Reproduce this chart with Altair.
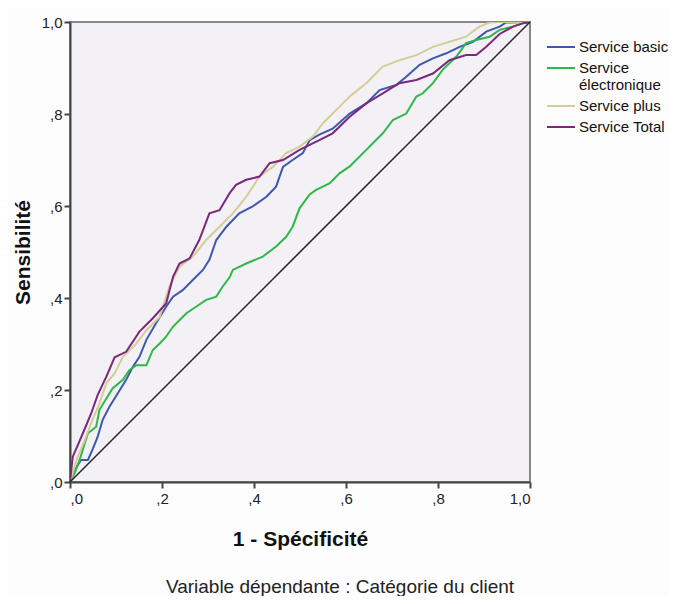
import altair as alt
import pandas as pd

SERIES = ["Service basic", "Service électronique", "Service plus", "Service Total"]
COLORS = ["#3E58AC", "#2EB848", "#D3CE97", "#7C287D"]
TICK_LABELS = [",0", ",2", ",4", ",6", ",8", "1,0"]

basic_x = [0, 0.010, 0.024, 0.039, 0.050, 0.060, 0.071, 0.086, 0.104, 0.122, 0.137, 0.151, 0.166, 0.187, 0.209,
           0.224, 0.245, 0.267, 0.289, 0.303, 0.318, 0.340, 0.368, 0.397, 0.427, 0.448, 0.463, 0.484, 0.506,
           0.521, 0.542, 0.571, 0.608, 0.644, 0.673, 0.709, 0.731, 0.760, 0.789, 0.818, 0.847, 0.876, 0.905,
           0.934, 0.948, 1.0]
basic_y = [0, 0.026, 0.048, 0.048, 0.073, 0.098, 0.135, 0.164, 0.193, 0.222, 0.251, 0.272, 0.309, 0.345, 0.381,
           0.403, 0.417, 0.439, 0.461, 0.483, 0.526, 0.555, 0.584, 0.599, 0.620, 0.642, 0.685, 0.700, 0.715,
           0.743, 0.755, 0.768, 0.801, 0.823, 0.852, 0.863, 0.881, 0.907, 0.921, 0.932, 0.946, 0.957, 0.979,
           0.990, 0.999, 1.0]

elec_x = [0, 0.010, 0.021, 0.032, 0.039, 0.057, 0.064, 0.086, 0.093, 0.115, 0.129, 0.144, 0.166, 0.180, 0.195,
          0.209, 0.224, 0.253, 0.274, 0.296, 0.318, 0.332, 0.347, 0.354, 0.383, 0.419, 0.448, 0.470, 0.484,
          0.499, 0.521, 0.535, 0.564, 0.586, 0.608, 0.644, 0.680, 0.702, 0.731, 0.753, 0.767, 0.789, 0.810,
          0.840, 0.861, 0.883, 0.912, 0.934, 0.963, 0.984, 1.0]
elec_y = [0, 0.019, 0.048, 0.084, 0.106, 0.120, 0.157, 0.193, 0.204, 0.222, 0.243, 0.254, 0.254, 0.287, 0.301,
          0.316, 0.338, 0.367, 0.381, 0.396, 0.403, 0.425, 0.445, 0.461, 0.475, 0.490, 0.512, 0.533, 0.555,
          0.595, 0.625, 0.635, 0.649, 0.671, 0.686, 0.722, 0.758, 0.787, 0.801, 0.838, 0.845, 0.867, 0.896,
          0.925, 0.954, 0.961, 0.968, 0.983, 0.990, 0.997, 1.0]

plus_x = [0, 0.010, 0.017, 0.032, 0.046, 0.064, 0.079, 0.097, 0.115, 0.144, 0.166, 0.195, 0.216, 0.238, 0.267,
          0.296, 0.325, 0.354, 0.383, 0.412, 0.441, 0.470, 0.499, 0.528, 0.550, 0.571, 0.586, 0.608, 0.644,
          0.680, 0.716, 0.753, 0.789, 0.825, 0.861, 0.890, 0.912, 0.930, 1.0]
plus_y = [0, 0.033, 0.055, 0.091, 0.128, 0.171, 0.215, 0.236, 0.272, 0.301, 0.330, 0.359, 0.425, 0.468, 0.490,
          0.526, 0.555, 0.584, 0.620, 0.664, 0.685, 0.715, 0.729, 0.751, 0.780, 0.801, 0.816, 0.838, 0.867,
          0.903, 0.917, 0.928, 0.946, 0.957, 0.968, 0.990, 0.999, 1.0, 1.0]

total_x = [0, 0.006, 0.017, 0.028, 0.046, 0.060, 0.079, 0.097, 0.122, 0.151, 0.180, 0.209, 0.224, 0.238, 0.260,
           0.281, 0.303, 0.325, 0.347, 0.361, 0.383, 0.412, 0.434, 0.463, 0.499, 0.542, 0.571, 0.608, 0.644,
           0.680, 0.716, 0.753, 0.789, 0.825, 0.861, 0.883, 0.905, 0.934, 0.963, 0.984, 1.0]
total_y = [0, 0.055, 0.080, 0.106, 0.149, 0.189, 0.229, 0.271, 0.283, 0.327, 0.356, 0.388, 0.446, 0.475, 0.486,
           0.526, 0.584, 0.591, 0.628, 0.646, 0.657, 0.664, 0.693, 0.700, 0.722, 0.743, 0.758, 0.794, 0.823,
           0.845, 0.867, 0.874, 0.888, 0.917, 0.928, 0.928, 0.946, 0.974, 0.990, 0.997, 1.0]

diag_x = [0, 1]
diag_y = [0, 1]

rows = []
for name, xs, ys in zip(SERIES, [basic_x, elec_x, plus_x, total_x], [basic_y, elec_y, plus_y, total_y]):
    for i, (a, b) in enumerate(zip(xs, ys)):
        rows.append({"serie": name, "fpr": a, "tpr": b, "ordre": i})
df = pd.DataFrame(rows)
diag = pd.DataFrame({"fpr": diag_x, "tpr": diag_y})

label_expr = "[" + ",".join("'" + t + "'" for t in TICK_LABELS) + "][round(datum.value*5)]"

x_scale = alt.Scale(domain=[0, 1], nice=False, zero=False)
y_scale = alt.Scale(domain=[0, 1], nice=False, zero=False)

x_axis = alt.Axis(values=[0, 0.2, 0.4, 0.6, 0.8, 1.0], labelExpr=label_expr, grid=False,
                  title="1 - Spécificité", titleFont="Liberation Sans", titleFontSize=21, titleFontWeight="bold",
                  titleColor="#111", titlePadding=22, labelFont="Liberation Sans", labelFontSize=15,
                  labelColor="#222", labelPadding=3, tickSize=6, tickWidth=2, tickColor="#444",
                  domainColor="#444", domainWidth=2)
y_axis = alt.Axis(values=[0, 0.2, 0.4, 0.6, 0.8, 1.0], labelExpr=label_expr, grid=False,
                  title="Sensibilité", titleFont="Liberation Sans", titleFontSize=21, titleFontWeight="bold",
                  titleColor="#111", titlePadding=8, labelFont="Liberation Sans", labelFontSize=15,
                  labelColor="#222", labelPadding=2, tickSize=6, tickWidth=2, tickColor="#444",
                  domainColor="#444", domainWidth=2)

diag_chart = alt.Chart(diag).mark_line(color="#222", strokeWidth=1.5).encode(
    x=alt.X("fpr:Q", scale=x_scale, axis=x_axis),
    y=alt.Y("tpr:Q", scale=y_scale, axis=y_axis),
)

lines = alt.Chart(df).mark_line(strokeWidth=2, clip=True).encode(
    x=alt.X("fpr:Q", scale=x_scale, axis=x_axis),
    y=alt.Y("tpr:Q", scale=y_scale, axis=y_axis),
    color=alt.Color("serie:N", scale=alt.Scale(domain=SERIES, range=COLORS),
                    legend=alt.Legend(title=None, orient="none", legendX=480, legendY=14,
                                      symbolType="M-1.4,0H1.4", symbolSize=400, symbolStrokeWidth=2,
                                      labelFont="Liberation Sans", labelFontSize=15, labelColor="#111",
                                      labelOffset=7, rowPadding=2, labelLimit=200,
                                      labelExpr="datum.label == 'Service électronique' ? ['Service', 'électronique'] : datum.label")),
    order=alt.Order("ordre:Q"),
    detail="serie:N",
)

chart = alt.layer(lines, diag_chart).properties(
    width=460, height=460,
    autosize=alt.AutoSizeParams(type="none"),
    padding={"left": 62, "top": 14, "right": 139, "bottom": 114},
    background="#fdfdfd",
    title=alt.TitleParams(text="Variable dépendante : Catégorie du client", orient="bottom", anchor="middle",
                          font="Liberation Sans", fontSize=19, fontWeight="normal", color="#222",
                          offset=29, dx=40),
).configure_view(fill="#f3f1f5", stroke="#888", strokeWidth=2)

chart.save("out.html", embed_options={"renderer": "svg", "actions": False})
